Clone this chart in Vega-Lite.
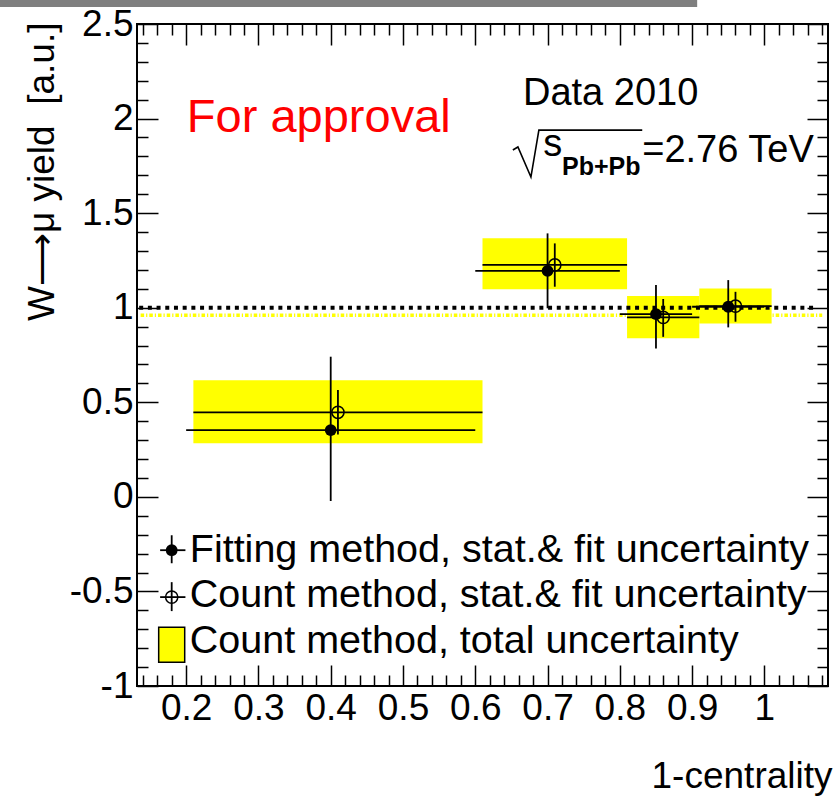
{
  "$schema": "https://vega.github.io/schema/vega-lite/v6.json",
  "width": 691,
  "height": 662,
  "autosize": "none",
  "padding": {"left": 137, "top": 24, "right": 12, "bottom": 111},
  "background": "white",
  "config": {
    "view": {"stroke": "black", "strokeWidth": 2},
    "axis": {"domain": false, "grid": false, "labelFont": "Liberation Sans", "titleFont": "Liberation Sans", "labelColor": "black", "titleColor": "black", "tickColor": "black", "tickWidth": 1.5, "labelFlush": false, "labelOverlap": false},
    "text": {"font": "Liberation Sans"}
  },
  "datasets": {
    "boxes": [
      {"x1": 0.21, "x2": 0.61, "y1": 0.283, "y2": 0.617},
      {"x1": 0.61, "x2": 0.81, "y1": 1.097, "y2": 1.367},
      {"x1": 0.81, "x2": 0.91, "y1": 0.838, "y2": 1.062},
      {"x1": 0.91, "x2": 1.01, "y1": 0.917, "y2": 1.102}
    ],
    "fit": [
      {"x": 0.40, "y": 0.353, "xlo": 0.20, "xhi": 0.60, "ylo": -0.022, "yhi": 0.741},
      {"x": 0.70, "y": 1.195, "xlo": 0.60, "xhi": 0.80, "ylo": 0.997, "yhi": 1.393},
      {"x": 0.85, "y": 0.966, "xlo": 0.80, "xhi": 0.90, "ylo": 0.785, "yhi": 1.120},
      {"x": 0.95, "y": 1.005, "xlo": 0.90, "xhi": 1.00, "ylo": 0.896, "yhi": 1.146}
    ],
    "count": [
      {"x": 0.41, "y": 0.447, "xlo": 0.21, "xhi": 0.61, "ylo": 0.33, "yhi": 0.565},
      {"x": 0.71, "y": 1.226, "xlo": 0.61, "xhi": 0.81, "ylo": 1.111, "yhi": 1.340},
      {"x": 0.86, "y": 0.949, "xlo": 0.81, "xhi": 0.91, "ylo": 0.846, "yhi": 1.046},
      {"x": 0.96, "y": 1.008, "xlo": 0.91, "xhi": 1.01, "ylo": 0.926, "yhi": 1.084}
    ],
    "blackline": [{"x1": 0.135, "x2": 1.068, "y": 1.0}],
    "yellowline": [{"x1": 0.137, "x2": 1.08, "y": 0.96}],
    "legend": [
      {"label": "Fitting method, stat.& fit uncertainty", "kind": "fit", "mx": 0.180, "my": -0.282, "tx": 0.205, "ty": -0.345, "xlo": 0.164, "xhi": 0.199, "ylo": -0.351, "yhi": -0.203},
      {"label": "Count method, stat.& fit uncertainty", "kind": "count", "mx": 0.180, "my": -0.530, "tx": 0.205, "ty": -0.583, "xlo": 0.164, "xhi": 0.199, "ylo": -0.604, "yhi": -0.451},
      {"label": "Count method, total uncertainty", "kind": "box", "mx": 0.180, "my": -0.78, "tx": 0.205, "ty": -0.826, "xlo": 0.162, "xhi": 0.198, "ylo": -0.874, "yhi": -0.689}
    ],
    "notes": [
      {"t": "Data 2010", "x": 0.666, "y": 2.072},
      {"t": "s", "x": 0.694, "y": 1.800},
      {"t": "=2.76 TeV", "x": 0.831, "y": 1.770}
    ],
    "sub": [{"t": "Pb+Pb", "x": 0.720, "y": 1.701}],
    "approval": [{"t": "For approval", "x": 0.201, "y": 1.929}],
    "radical": [
      {"i": 0, "x": 0.652, "y": 1.834},
      {"i": 1, "x": 0.659, "y": 1.850},
      {"i": 2, "x": 0.677, "y": 1.691},
      {"i": 3, "x": 0.688, "y": 1.939},
      {"i": 4, "x": 0.831, "y": 1.939}
    ],
    "bar": [{"x1": -0.058, "x2": 0.907, "y1": 2.59, "y2": 2.627}]
  },
  "resolve": {"axis": {"x": "independent", "y": "independent"}},
  "layer": [
    {
      "data": {"name": "boxes"},
      "mark": {"type": "rect", "color": "#ffff00"},
      "encoding": {
        "x": {"field": "x1", "type": "quantitative", "scale": {"domain": [0.132, 1.088], "nice": false, "zero": false},
          "axis": {"orient": "bottom", "values": [0.2, 0.3, 0.4, 0.5, 0.6, 0.7, 0.8, 0.9, 1], "labelExpr": "'' + datum.value", "ticks": false, "tickSize": 0, "domain": false, "labelFontSize": 37, "labelPadding": 4, "labelFlush": false, "labelOverlap": false, "title": "1-centrality", "titleFontSize": 37, "titleFontWeight": "normal", "titleX": 695, "titleY": 101, "titleAlign": "right", "titleBaseline": "alphabetic", "titleAnchor": "end"}},
        "x2": {"field": "x2"},
        "y": {"field": "y1", "type": "quantitative", "scale": {"domain": [-1, 2.5], "nice": false, "zero": false},
          "axis": {"orient": "left", "values": [-1, -0.5, 0, 0.5, 1, 1.5, 2, 2.5], "labelExpr": "'' + datum.value", "ticks": false, "tickSize": 0, "domain": false, "labelFontSize": 37, "labelPadding": 4, "labelFlush": false, "labelOverlap": false, "title": "W⟶μ yield \u00a0[a.u.]", "titleFontSize": 37, "titleFontWeight": "normal", "titleX": -84, "titleY": -2, "titleAngle": 270, "titleAlign": "right", "titleBaseline": "alphabetic"}},
        "y2": {"field": "y2"}
      }
    },
    {
      "data": {"name": "yellowline"},
      "mark": {"type": "rule", "color": "#ffff00", "strokeWidth": 3.5, "strokeDash": [3.5, 2, 1.2, 2]},
      "encoding": {
        "x": {"field": "x1", "type": "quantitative", "scale": {"domain": [0.132, 1.088], "nice": false, "zero": false},
          "axis": {"orient": "bottom", "values": [0.2, 0.3, 0.4, 0.5, 0.6, 0.7, 0.8, 0.9, 1], "labels": false, "ticks": true, "tickSize": -21, "domain": false, "title": null}},
        "x2": {"field": "x2"},
        "y": {"field": "y", "type": "quantitative", "scale": {"domain": [-1, 2.5], "nice": false, "zero": false},
          "axis": {"orient": "left", "values": [-1, -0.5, 0, 0.5, 1, 1.5, 2, 2.5], "labels": false, "ticks": true, "tickSize": -21, "domain": false, "title": null}}
      }
    },
    {
      "data": {"name": "blackline"},
      "mark": {"type": "rule", "color": "black", "strokeWidth": 4, "strokeDash": [4, 4.7]},
      "encoding": {
        "x": {"field": "x1", "type": "quantitative", "scale": {"domain": [0.132, 1.088], "nice": false, "zero": false},
          "axis": {"orient": "bottom", "values": [0.14, 0.16, 0.18, 0.22, 0.24, 0.26, 0.28, 0.32, 0.34, 0.36, 0.38, 0.42, 0.44, 0.46, 0.48, 0.52, 0.54, 0.56, 0.58, 0.62, 0.64, 0.66, 0.68, 0.72, 0.74, 0.76, 0.78, 0.82, 0.84, 0.86, 0.88, 0.92, 0.94, 0.96, 0.98, 1.02, 1.04, 1.06, 1.08], "labels": false, "ticks": true, "tickSize": -11, "domain": false, "title": null}},
        "x2": {"field": "x2"},
        "y": {"field": "y", "type": "quantitative", "scale": {"domain": [-1, 2.5], "nice": false, "zero": false},
          "axis": {"orient": "left", "values": [-0.9, -0.8, -0.7, -0.6, -0.4, -0.3, -0.2, -0.1, 0.1, 0.2, 0.3, 0.4, 0.6, 0.7, 0.8, 0.9, 1.1, 1.2, 1.3, 1.4, 1.6, 1.7, 1.8, 1.9, 2.1, 2.2, 2.3, 2.4], "labels": false, "ticks": true, "tickSize": -11, "domain": false, "title": null}}
      }
    },
    {
      "data": {"name": "fit"},
      "mark": {"type": "rule", "color": "black", "strokeWidth": 1.8},
      "encoding": {
        "x": {"field": "xlo", "type": "quantitative", "scale": {"domain": [0.132, 1.088], "nice": false, "zero": false},
          "axis": {"orient": "top", "values": [0.2, 0.3, 0.4, 0.5, 0.6, 0.7, 0.8, 0.9, 1], "labels": false, "ticks": true, "tickSize": -21, "domain": false, "title": null}},
        "x2": {"field": "xhi"},
        "y": {"field": "y", "type": "quantitative", "scale": {"domain": [-1, 2.5], "nice": false, "zero": false},
          "axis": {"orient": "right", "values": [-1, -0.5, 0, 0.5, 1, 1.5, 2, 2.5], "labels": false, "ticks": true, "tickSize": -21, "domain": false, "title": null}}
      }
    },
    {
      "data": {"name": "fit"},
      "mark": {"type": "rule", "color": "black", "strokeWidth": 1.8},
      "encoding": {
        "x": {"field": "x", "type": "quantitative", "scale": {"domain": [0.132, 1.088], "nice": false, "zero": false},
          "axis": {"orient": "top", "values": [0.14, 0.16, 0.18, 0.22, 0.24, 0.26, 0.28, 0.32, 0.34, 0.36, 0.38, 0.42, 0.44, 0.46, 0.48, 0.52, 0.54, 0.56, 0.58, 0.62, 0.64, 0.66, 0.68, 0.72, 0.74, 0.76, 0.78, 0.82, 0.84, 0.86, 0.88, 0.92, 0.94, 0.96, 0.98, 1.02, 1.04, 1.06, 1.08], "labels": false, "ticks": true, "tickSize": -11, "domain": false, "title": null}},
        "y": {"field": "ylo", "type": "quantitative", "scale": {"domain": [-1, 2.5], "nice": false, "zero": false},
          "axis": {"orient": "right", "values": [-0.9, -0.8, -0.7, -0.6, -0.4, -0.3, -0.2, -0.1, 0.1, 0.2, 0.3, 0.4, 0.6, 0.7, 0.8, 0.9, 1.1, 1.2, 1.3, 1.4, 1.6, 1.7, 1.8, 1.9, 2.1, 2.2, 2.3, 2.4], "labels": false, "ticks": true, "tickSize": -11, "domain": false, "title": null}},
        "y2": {"field": "yhi"}
      }
    },
    {
      "data": {"name": "count"},
      "mark": {"type": "rule", "color": "black", "strokeWidth": 1.8},
      "encoding": {
        "x": {"field": "xlo", "type": "quantitative", "scale": {"domain": [0.132, 1.088], "nice": false, "zero": false}, "axis": null},
        "x2": {"field": "xhi"},
        "y": {"field": "y", "type": "quantitative", "scale": {"domain": [-1, 2.5], "nice": false, "zero": false}, "axis": null}
      }
    },
    {
      "data": {"name": "count"},
      "mark": {"type": "rule", "color": "black", "strokeWidth": 1.8},
      "encoding": {
        "x": {"field": "x", "type": "quantitative", "scale": {"domain": [0.132, 1.088], "nice": false, "zero": false}, "axis": null},
        "y": {"field": "ylo", "type": "quantitative", "scale": {"domain": [-1, 2.5], "nice": false, "zero": false}, "axis": null},
        "y2": {"field": "yhi"}
      }
    },
    {
      "data": {"name": "fit"},
      "mark": {"type": "point", "shape": "circle", "filled": true, "color": "black", "size": 140, "opacity": 1},
      "encoding": {
        "x": {"field": "x", "type": "quantitative", "scale": {"domain": [0.132, 1.088], "nice": false, "zero": false}, "axis": null},
        "y": {"field": "y", "type": "quantitative", "scale": {"domain": [-1, 2.5], "nice": false, "zero": false}, "axis": null}
      }
    },
    {
      "data": {"name": "count"},
      "mark": {"type": "point", "shape": "circle", "filled": false, "color": "black", "strokeWidth": 1.5, "size": 150, "opacity": 1},
      "encoding": {
        "x": {"field": "x", "type": "quantitative", "scale": {"domain": [0.132, 1.088], "nice": false, "zero": false}, "axis": null},
        "y": {"field": "y", "type": "quantitative", "scale": {"domain": [-1, 2.5], "nice": false, "zero": false}, "axis": null}
      }
    },
    {
      "data": {"name": "legend"},
      "transform": [{"filter": "datum.kind == 'box'"}],
      "mark": {"type": "rect", "fill": "#ffff00", "stroke": "black", "strokeWidth": 1.5},
      "encoding": {
        "x": {"field": "xlo", "type": "quantitative", "scale": {"domain": [0.132, 1.088], "nice": false, "zero": false}, "axis": null},
        "x2": {"field": "xhi"},
        "y": {"field": "ylo", "type": "quantitative", "scale": {"domain": [-1, 2.5], "nice": false, "zero": false}, "axis": null},
        "y2": {"field": "yhi"}
      }
    },
    {
      "data": {"name": "legend"},
      "transform": [{"filter": "datum.kind != 'box'"}],
      "mark": {"type": "rule", "color": "black", "strokeWidth": 1.8},
      "encoding": {
        "x": {"field": "xlo", "type": "quantitative", "scale": {"domain": [0.132, 1.088], "nice": false, "zero": false}, "axis": null},
        "x2": {"field": "xhi"},
        "y": {"field": "my", "type": "quantitative", "scale": {"domain": [-1, 2.5], "nice": false, "zero": false}, "axis": null}
      }
    },
    {
      "data": {"name": "legend"},
      "transform": [{"filter": "datum.kind != 'box'"}],
      "mark": {"type": "rule", "color": "black", "strokeWidth": 1.8},
      "encoding": {
        "x": {"field": "mx", "type": "quantitative", "scale": {"domain": [0.132, 1.088], "nice": false, "zero": false}, "axis": null},
        "y": {"field": "ylo", "type": "quantitative", "scale": {"domain": [-1, 2.5], "nice": false, "zero": false}, "axis": null},
        "y2": {"field": "yhi"}
      }
    },
    {
      "data": {"name": "legend"},
      "transform": [{"filter": "datum.kind == 'fit'"}],
      "mark": {"type": "point", "shape": "circle", "filled": true, "color": "black", "size": 140, "opacity": 1},
      "encoding": {
        "x": {"field": "mx", "type": "quantitative", "scale": {"domain": [0.132, 1.088], "nice": false, "zero": false}, "axis": null},
        "y": {"field": "my", "type": "quantitative", "scale": {"domain": [-1, 2.5], "nice": false, "zero": false}, "axis": null}
      }
    },
    {
      "data": {"name": "legend"},
      "transform": [{"filter": "datum.kind == 'count'"}],
      "mark": {"type": "point", "shape": "circle", "filled": false, "color": "black", "strokeWidth": 1.5, "size": 150, "opacity": 1},
      "encoding": {
        "x": {"field": "mx", "type": "quantitative", "scale": {"domain": [0.132, 1.088], "nice": false, "zero": false}, "axis": null},
        "y": {"field": "my", "type": "quantitative", "scale": {"domain": [-1, 2.5], "nice": false, "zero": false}, "axis": null}
      }
    },
    {
      "data": {"name": "legend"},
      "mark": {"type": "text", "align": "left", "baseline": "alphabetic", "fontSize": 39.5, "color": "black", "font": "Liberation Sans"},
      "encoding": {
        "x": {"field": "tx", "type": "quantitative", "scale": {"domain": [0.132, 1.088], "nice": false, "zero": false}, "axis": null},
        "y": {"field": "ty", "type": "quantitative", "scale": {"domain": [-1, 2.5], "nice": false, "zero": false}, "axis": null},
        "text": {"field": "label"}
      }
    },
    {
      "data": {"name": "approval"},
      "mark": {"type": "text", "align": "left", "baseline": "alphabetic", "fontSize": 47, "color": "#ff0000", "font": "Liberation Sans"},
      "encoding": {
        "x": {"field": "x", "type": "quantitative", "scale": {"domain": [0.132, 1.088], "nice": false, "zero": false}, "axis": null},
        "y": {"field": "y", "type": "quantitative", "scale": {"domain": [-1, 2.5], "nice": false, "zero": false}, "axis": null},
        "text": {"field": "t"}
      }
    },
    {
      "data": {"name": "notes"},
      "mark": {"type": "text", "align": "left", "baseline": "alphabetic", "fontSize": 38, "color": "black", "font": "Liberation Sans"},
      "encoding": {
        "x": {"field": "x", "type": "quantitative", "scale": {"domain": [0.132, 1.088], "nice": false, "zero": false}, "axis": null},
        "y": {"field": "y", "type": "quantitative", "scale": {"domain": [-1, 2.5], "nice": false, "zero": false}, "axis": null},
        "text": {"field": "t"}
      }
    },
    {
      "data": {"name": "sub"},
      "mark": {"type": "text", "align": "left", "baseline": "alphabetic", "fontSize": 25, "fontWeight": "bold", "color": "black", "font": "Liberation Sans"},
      "encoding": {
        "x": {"field": "x", "type": "quantitative", "scale": {"domain": [0.132, 1.088], "nice": false, "zero": false}, "axis": null},
        "y": {"field": "y", "type": "quantitative", "scale": {"domain": [-1, 2.5], "nice": false, "zero": false}, "axis": null},
        "text": {"field": "t"}
      }
    },
    {
      "data": {"name": "radical"},
      "mark": {"type": "line", "color": "black", "strokeWidth": 1.6},
      "encoding": {
        "x": {"field": "x", "type": "quantitative", "scale": {"domain": [0.132, 1.088], "nice": false, "zero": false}, "axis": null},
        "y": {"field": "y", "type": "quantitative", "scale": {"domain": [-1, 2.5], "nice": false, "zero": false}, "axis": null},
        "order": {"field": "i"}
      }
    },
    {
      "data": {"name": "bar"},
      "mark": {"type": "rect", "color": "#7f7f7f", "clip": false},
      "encoding": {
        "x": {"field": "x1", "type": "quantitative", "scale": {"domain": [0.132, 1.088], "nice": false, "zero": false}, "axis": null},
        "x2": {"field": "x2"},
        "y": {"field": "y1", "type": "quantitative", "scale": {"domain": [-1, 2.5], "nice": false, "zero": false}, "axis": null},
        "y2": {"field": "y2"}
      }
    }
  ]
}
